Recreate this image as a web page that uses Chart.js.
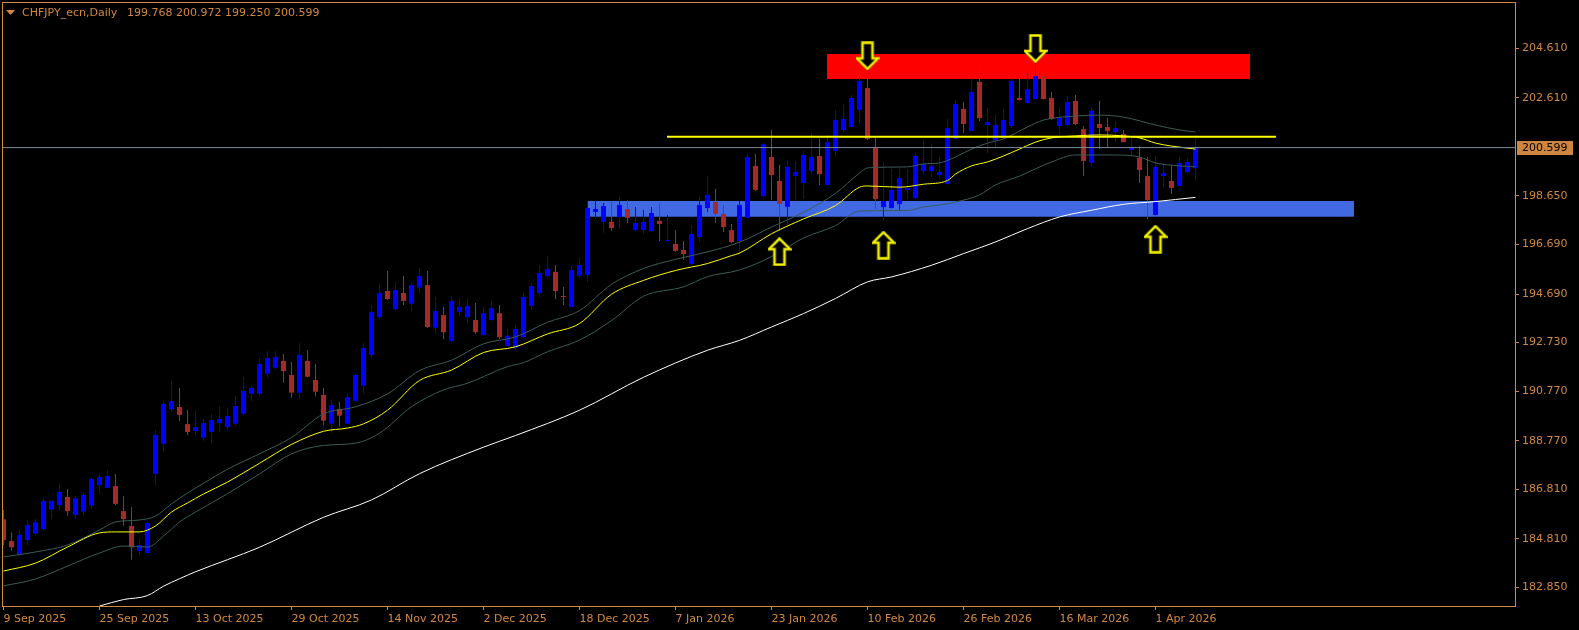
<!DOCTYPE html>
<html>
<head>
<meta charset="utf-8">
<script src="https://cdn.jsdelivr.net/npm/chart.js@4.4.1/dist/chart.umd.min.js"></script>
<style>
    html, body { margin: 0; padding: 0; background: #000; }
    #wrap { width: 1579px; height: 630px; position: relative; }
</style>
</head>
<body>
<div id="wrap"><canvas id="chart"></canvas></div>
<script>
// CHFJPY daily candles, one entry per bar (bar 0 = 9 Sep 2025)
const opens = [
    185.60, 184.72, 184.16, 184.76, 185.02, 185.20, 185.99, 186.17, 186.50, 185.77,
    185.91, 186.15, 186.98, 186.87, 186.94, 185.93, 185.33, 184.32, 184.24, 187.43,
    188.65, 190.04, 190.13, 189.44, 189.16, 188.89, 189.13, 189.48, 189.32, 189.46,
    189.86, 190.66, 190.67, 191.47, 191.72, 191.99, 191.42, 190.71, 191.99, 191.22,
    190.62, 189.46, 190.05, 189.46, 190.38, 190.99, 192.23, 193.76, 194.81, 194.08,
    194.73, 194.30, 194.95, 195.05, 193.33, 193.84, 192.79, 193.96, 193.76, 193.64,
    193.03, 193.64, 193.92, 192.60, 192.51, 192.95, 194.21, 194.73, 195.42, 195.58,
    194.59, 194.17, 195.43, 195.46, 198.00, 197.60, 197.60, 197.80, 198.12, 197.27,
    197.27, 197.23, 197.64, 196.83, 196.71, 196.47, 195.90, 196.99, 198.16, 198.40,
    197.92, 197.27, 196.83, 197.76, 199.86, 198.64, 200.22, 199.25, 198.21, 199.45,
    199.17, 199.65, 200.26, 199.09, 200.46, 201.31, 201.43, 202.12, 203.00, 200.58,
    198.20, 198.16, 198.32, 198.89, 198.56, 199.65, 199.65, 199.49, 199.13, 200.95,
    202.16, 201.27, 203.25, 201.51, 200.90, 201.03, 201.47, 202.60, 202.40, 202.56,
    203.49, 202.60, 201.47, 201.51, 202.48, 201.35, 199.98, 201.55, 201.43, 201.23,
    201.15, 200.50, 200.18, 199.45, 197.88, 199.45, 199.25, 199.05, 199.61, 199.768
];
const highs = [
    185.97, 185.07, 185.19, 185.57, 185.61, 186.42, 186.38, 187.05, 186.82, 186.55,
    186.67, 187.29, 187.39, 187.59, 187.43, 186.54, 186.09, 184.83, 185.49, 189.20,
    190.38, 191.18, 190.90, 190.01, 190.01, 189.65, 189.85, 190.17, 190.09, 190.57,
    191.34, 190.98, 192.11, 192.39, 192.39, 192.27, 191.95, 192.71, 192.43, 191.87,
    190.90, 190.41, 190.33, 190.70, 191.50, 192.71, 194.25, 195.13, 195.62, 195.17,
    195.42, 195.09, 195.74, 195.62, 194.57, 194.17, 194.61, 194.53, 194.53, 194.33,
    194.17, 194.41, 194.25, 193.28, 193.44, 194.73, 195.13, 195.86, 196.22, 195.86,
    194.97, 195.82, 196.14, 198.44, 198.48, 198.36, 198.40, 198.60, 198.48, 198.20,
    198.08, 198.20, 198.36, 197.88, 197.27, 196.83, 197.48, 198.60, 199.45, 198.93,
    198.28, 197.52, 198.44, 200.34, 200.34, 200.78, 201.31, 199.90, 200.10, 200.06,
    200.46, 201.19, 200.95, 201.11, 202.12, 202.36, 202.72, 203.49, 203.73, 200.99,
    200.02, 199.73, 199.77, 199.73, 200.38, 200.95, 200.74, 200.22, 201.75, 202.52,
    202.44, 203.41, 203.89, 202.20, 201.95, 202.16, 203.41, 203.73, 203.57, 204.01,
    203.69, 202.84, 202.24, 202.68, 202.72, 201.47, 202.20, 202.48, 201.79, 201.67,
    201.31, 201.03, 200.66, 200.22, 200.26, 199.98, 199.90, 200.22, 200.18, 200.972
];
const lows = [
    184.56, 184.33, 184.12, 184.56, 184.94, 185.14, 185.60, 185.93, 185.74, 185.61,
    185.77, 186.01, 186.62, 186.85, 186.17, 185.34, 183.97, 184.17, 184.22, 186.95,
    188.33, 189.94, 189.57, 189.00, 189.00, 188.76, 188.69, 189.13, 189.24, 189.38,
    189.84, 190.38, 190.59, 191.31, 191.66, 191.11, 190.51, 190.46, 191.33, 190.55,
    189.38, 189.09, 189.34, 189.44, 190.34, 190.67, 192.15, 193.67, 194.45, 194.04,
    194.25, 194.00, 194.70, 193.32, 193.09, 192.87, 192.77, 193.80, 193.52, 193.07,
    193.01, 193.62, 192.87, 192.58, 192.43, 192.93, 194.04, 194.57, 195.34, 194.49,
    194.25, 194.15, 195.35, 195.17, 197.72, 197.15, 197.23, 197.31, 197.56, 197.25,
    197.11, 197.19, 196.83, 196.81, 196.39, 196.06, 195.88, 196.79, 198.00, 197.56,
    197.19, 196.75, 196.30, 197.74, 198.85, 198.62, 198.48, 197.23, 197.37, 198.48,
    198.52, 199.57, 199.09, 199.07, 200.22, 201.23, 201.41, 201.59, 200.91, 198.12,
    197.64, 198.14, 198.08, 198.52, 198.54, 199.53, 199.41, 199.33, 199.11, 200.93,
    201.19, 201.25, 201.67, 200.38, 200.58, 200.95, 201.39, 202.50, 202.38, 202.54,
    202.54, 201.71, 201.11, 201.47, 201.51, 199.45, 199.82, 200.54, 200.58, 200.82,
    200.80, 200.26, 199.17, 197.72, 197.86, 199.01, 198.73, 199.03, 199.59, 199.250
];
const closes = [
    184.76, 184.47, 184.97, 185.37, 185.48, 186.34, 186.34, 186.70, 185.93, 186.45,
    186.58, 187.22, 187.31, 187.35, 186.22, 185.61, 184.47, 184.56, 185.45, 189.00,
    190.25, 190.37, 189.81, 189.12, 189.32, 189.48, 189.60, 189.65, 189.77, 190.17,
    190.78, 190.90, 191.87, 192.11, 192.15, 191.58, 190.71, 192.23, 191.35, 190.75,
    189.58, 190.21, 189.78, 190.53, 191.42, 192.51, 193.96, 194.73, 194.49, 194.85,
    194.41, 195.05, 195.42, 193.36, 194.00, 193.15, 194.41, 194.17, 194.21, 193.15,
    193.92, 194.12, 192.95, 193.01, 193.28, 194.57, 195.01, 195.54, 195.70, 194.81,
    194.57, 195.66, 195.86, 198.16, 198.12, 198.24, 197.35, 198.28, 197.76, 197.56,
    197.60, 197.96, 197.52, 196.85, 196.43, 196.30, 197.11, 198.28, 198.69, 197.92,
    197.39, 196.79, 198.28, 200.22, 198.89, 200.74, 199.49, 198.33, 199.82, 199.61,
    200.30, 200.22, 199.53, 200.82, 201.71, 201.75, 202.60, 203.29, 200.95, 198.52,
    198.44, 198.89, 199.37, 198.97, 200.26, 199.94, 199.86, 199.61, 201.39, 202.36,
    201.55, 202.84, 201.79, 201.63, 201.51, 201.71, 203.29, 202.52, 202.96, 203.49,
    202.56, 201.75, 201.83, 202.44, 201.55, 200.06, 202.08, 201.39, 201.27, 201.39,
    200.82, 200.62, 199.69, 198.48, 199.82, 199.57, 198.97, 199.98, 200.02, 200.599
];

// moving averages: [bar, price]
const maYellow = [
    [0, 183.51], [4, 183.83], [8, 184.48], [12, 185.05], [14, 185.09], [17, 185.09], [19, 185.33],
    [21, 185.89], [23, 186.26], [25, 186.62], [28, 187.10], [32, 187.86], [36, 188.62], [40, 189.15],
    [43, 189.28], [45, 189.45], [48, 190.00], [52, 191.20], [56, 191.62], [60, 192.33], [64, 192.56],
    [68, 193.08], [72, 193.50], [76, 194.68], [80, 195.24], [84, 195.64], [88, 195.92], [91, 196.24],
    [92, 196.34], [96, 197.12], [100, 197.72], [104, 198.26], [107, 199.00], [108, 199.05], [112, 199.00],
    [115, 199.12], [118, 199.27], [119, 199.53], [121, 199.86], [123, 200.02], [125, 200.26], [127, 200.54],
    [129, 200.82], [131, 200.99], [134, 201.07], [137, 201.11], [140, 201.07], [142, 200.99], [144, 200.78],
    [146, 200.66], [149, 200.54]
];
const maUpper = [
    [0, 184.08], [4, 184.28], [8, 184.56], [12, 185.17], [14, 185.49], [17, 185.57], [19, 185.73],
    [21, 186.22], [23, 186.66], [25, 187.05], [28, 187.62], [32, 188.24], [36, 188.90], [40, 189.85],
    [44, 190.14], [48, 190.66], [52, 191.60], [56, 192.02], [60, 192.68], [64, 192.96], [68, 193.55],
    [72, 194.02], [76, 195.08], [80, 195.72], [84, 196.09], [88, 196.39], [92, 196.78], [96, 197.39],
    [100, 197.99], [104, 198.75], [107, 199.57], [108, 199.78], [113, 199.82], [115, 199.94], [117, 199.98],
    [119, 200.22], [121, 200.54], [123, 200.78], [125, 200.95], [128, 201.43], [130, 201.71], [134, 201.87],
    [137, 201.91], [140, 201.83], [144, 201.51], [147, 201.31], [149, 201.23]
];
const maLower = [
    [0, 182.91], [4, 183.19], [8, 183.71], [12, 184.24], [15, 184.52], [18, 184.48], [20, 184.92],
    [22, 185.49], [24, 185.89], [28, 186.63], [32, 187.43], [36, 188.24], [40, 188.58], [44, 188.67],
    [47, 189.07], [51, 190.14], [55, 190.82], [58, 191.09], [63, 191.76], [65, 191.92], [68, 192.36],
    [72, 192.83], [76, 193.62], [80, 194.60], [85, 194.98], [88, 195.39], [92, 195.66], [96, 196.20],
    [100, 196.95], [104, 197.45], [107, 198.04], [113, 198.06], [115, 198.20], [117, 198.28], [119, 198.40],
    [122, 198.69], [124, 199.09], [127, 199.45], [131, 200.02], [134, 200.30], [139, 200.30], [142, 200.22],
    [144, 199.98], [147, 199.86], [149, 199.82]
];
const maSlow = [
    [12, 182.10], [15, 182.36], [18, 182.52], [20, 182.90], [22, 183.20], [24, 183.48], [32, 184.47],
    [40, 185.68], [46, 186.38], [52, 187.44], [60, 188.51], [64, 188.98], [72, 190.00], [80, 191.33],
    [88, 192.42], [92, 192.82], [96, 193.36], [100, 193.90], [104, 194.51], [108, 195.18], [111, 195.38],
    [116, 195.85], [120, 196.32], [124, 196.79], [128, 197.33], [132, 197.80], [136, 198.07], [140, 198.31],
    [144, 198.42], [149, 198.59]
];

// drawn objects: [fromBar, toBar, highPrice, lowPrice]
const resistanceZone = [102.94, 155.81, 204.376, 203.367];
const supportZone = [72.94, 168.81, 198.444, 197.810];
const levelLine = [82.94, 159.06, 201.04];
const arrowsDown = [[108, 204.30], [129, 204.60]];
const arrowsUp = [[97, 196.40], [110, 196.66], [144, 196.90]];

const dateTickBars = [0, 12, 24, 36, 48, 60, 72, 84, 96, 108, 120, 132, 144];
const dateTickLabels = ["9 Sep 2025", "25 Sep 2025", "13 Oct 2025", "29 Oct 2025", "14 Nov 2025", "2 Dec 2025",
    "18 Dec 2025", "7 Jan 2026", "23 Jan 2026", "10 Feb 2026", "26 Feb 2026", "16 Mar 2026", "1 Apr 2026"];
const priceTicks = [204.61, 202.61, 198.65, 196.69, 194.69, 192.73, 190.77, 188.77, 186.81, 184.81, 182.85];

const AXIS = "#d2883f";
const BULL = "#0000ff";
const BEAR = "#a52a2a";
const FONT = "DejaVu Sans";

const last = opens.length - 1;
const candleColor = (ctx) => (closes[ctx.dataIndex] >= opens[ctx.dataIndex] ? BULL : BEAR);
const toPoints = (pairs) => pairs.map(([x, y]) => ({ x, y }));

function makeArrow(up) {
    const c = document.createElement("canvas");
    c.width = 24;
    c.height = 29;
    const g = c.getContext("2d");
    const pts = [[12, 1.5], [22.5, 12], [17, 12], [17, 27.5], [7, 27.5], [7, 12], [1.5, 12]];
    g.beginPath();
    pts.forEach(([x, y], i) => {
        const yy = up ? y : 29 - y;
        if (i === 0) g.moveTo(x, yy); else g.lineTo(x, yy);
    });
    g.closePath();
    g.fillStyle = "#000";
    g.fill();
    g.lineJoin = "miter";
    g.strokeStyle = "#9a9a00";
    g.lineWidth = 3;
    g.stroke();
    g.strokeStyle = "#ffff00";
    g.lineWidth = 1.6;
    g.stroke();
    return c;
}

// drop the half-label padding Chart.js reserves at the axis ends
const noEdgePadding = (s) => {
    s.paddingTop = 0;
    s.paddingBottom = 0;
    s.paddingLeft = 0;
    s.paddingRight = 0;
};

const frame = {
    id: "frame",
    afterDraw(chart) {
        const { ctx, chartArea: a, scales } = chart;
        ctx.save();
        ctx.strokeStyle = AXIS;
        ctx.lineWidth = 1;
        ctx.strokeRect(a.left + 0.5, a.top + 0.5, a.right - a.left, a.bottom - a.top);

        // current price tag
        const y = Math.round(scales.y.getPixelForValue(closes[last]));
        ctx.fillStyle = "#cd853f";
        ctx.fillRect(a.right + 2, y - 7, 56, 14);
        ctx.fillStyle = "#000";
        ctx.font = `11px '${FONT}'`;
        ctx.textBaseline = "middle";
        ctx.fillText(closes[last].toFixed(3), a.right + 7, y + 0.5);

        // symbol header
        ctx.fillStyle = AXIS;
        ctx.beginPath();
        ctx.moveTo(6, 10);
        ctx.lineTo(15, 10);
        ctx.lineTo(10.5, 15);
        ctx.closePath();
        ctx.fill();
        ctx.textBaseline = "alphabetic";
        ctx.fillText("CHFJPY_ecn,Daily", 22, 16);
        const ohlc = [opens[last], highs[last], lows[last], closes[last]].map((v) => v.toFixed(3)).join(" ");
        ctx.fillText(ohlc, 127, 16);
        ctx.restore();
    },
};

const lineSet = (data, color, width, order) => ({
    type: "line",
    data: toPoints(data),
    borderColor: color,
    borderWidth: width,
    pointRadius: 0,
    cubicInterpolationMode: "monotone",
    fill: false,
    order,
});

const zoneSet = ([x1, x2, hi, lo], color) => ({
    type: "line",
    data: [{ x: x1, y: hi }, { x: x2, y: hi }],
    borderColor: "transparent",
    borderWidth: 0,
    pointRadius: 0,
    backgroundColor: color,
    fill: { value: lo },
    order: 10,
});

new Chart(document.getElementById("chart"), {
    type: "bar",
    data: {
        datasets: [
            zoneSet(resistanceZone, "#ff0000"),
            zoneSet(supportZone, "#4169e1"),
            {
                type: "bar",
                data: opens.map((_, i) => ({ x: i, y: [lows[i], highs[i]] })),
                backgroundColor: candleColor,
                grouped: false,
                maxBarThickness: 1,
                minBarLength: 1,
                order: 6,
            },
            {
                type: "bar",
                data: opens.map((o, i) => ({ x: i, y: [o, closes[i]] })),
                backgroundColor: candleColor,
                grouped: false,
                maxBarThickness: 5,
                minBarLength: 1,
                order: 5,
            },
            lineSet(maSlow, "#ffffff", 1, 4),
            lineSet(maUpper, "#3d5c58", 1, 4),
            lineSet(maLower, "#3d5c58", 1, 4),
            lineSet(maYellow, "#ffff00", 1, 3),
            {
                type: "line",
                data: [{ x: -1, y: closes[last] }, { x: 200, y: closes[last] }],
                borderColor: "#7a8899",
                borderWidth: 1,
                pointRadius: 0,
                order: 2,
            },
            {
                type: "line",
                data: [{ x: levelLine[0], y: levelLine[2] }, { x: levelLine[1], y: levelLine[2] }],
                borderColor: "#ffff00",
                borderWidth: 2,
                pointRadius: 0,
                order: 2,
            },
            {
                type: "line",
                data: toPoints(arrowsDown),
                showLine: false,
                pointStyle: makeArrow(false),
                order: 1,
            },
            {
                type: "line",
                data: toPoints(arrowsUp),
                showLine: false,
                pointStyle: makeArrow(true),
                order: 1,
            },
        ],
    },
    options: {
        responsive: true,
        maintainAspectRatio: false,
        animation: false,
        events: [],
        layout: { padding: { left: 2, top: 2, right: 0, bottom: 0 }, autoPadding: false },
        plugins: { legend: { display: false }, tooltip: { enabled: false } },
        scales: {
            x: {
                type: "linear",
                position: "bottom",
                min: -0.1875,
                max: 188.9375,
                offset: false,
                afterBuildTicks: (s) => { s.ticks = dateTickBars.map((v) => ({ value: v })); },
                afterFit: (s) => { s.height = 24; noEdgePadding(s); },
                ticks: {
                    color: AXIS,
                    font: { family: FONT, size: 11 },
                    align: "start",
                    maxRotation: 0,
                    autoSkip: false,
                    padding: 3,
                    callback: (v, i) => dateTickLabels[i],
                },
                grid: { drawOnChartArea: false, drawTicks: true, tickLength: 4, color: AXIS, offset: false },
                border: { display: false },
            },
            y: {
                type: "linear",
                position: "right",
                min: 182.10,
                max: 206.474,
                afterBuildTicks: (s) => { s.ticks = priceTicks.map((v) => ({ value: v })); },
                afterFit: (s) => { s.width = 64; noEdgePadding(s); },
                ticks: {
                    color: AXIS,
                    font: { family: FONT, size: 11 },
                    padding: 3,
                    callback: (v) => v.toFixed(3),
                },
                grid: { drawOnChartArea: false, drawTicks: true, tickLength: 4, color: AXIS },
                border: { display: false },
            },
        },
    },
    plugins: [frame],
});
</script>
</body>
</html>
